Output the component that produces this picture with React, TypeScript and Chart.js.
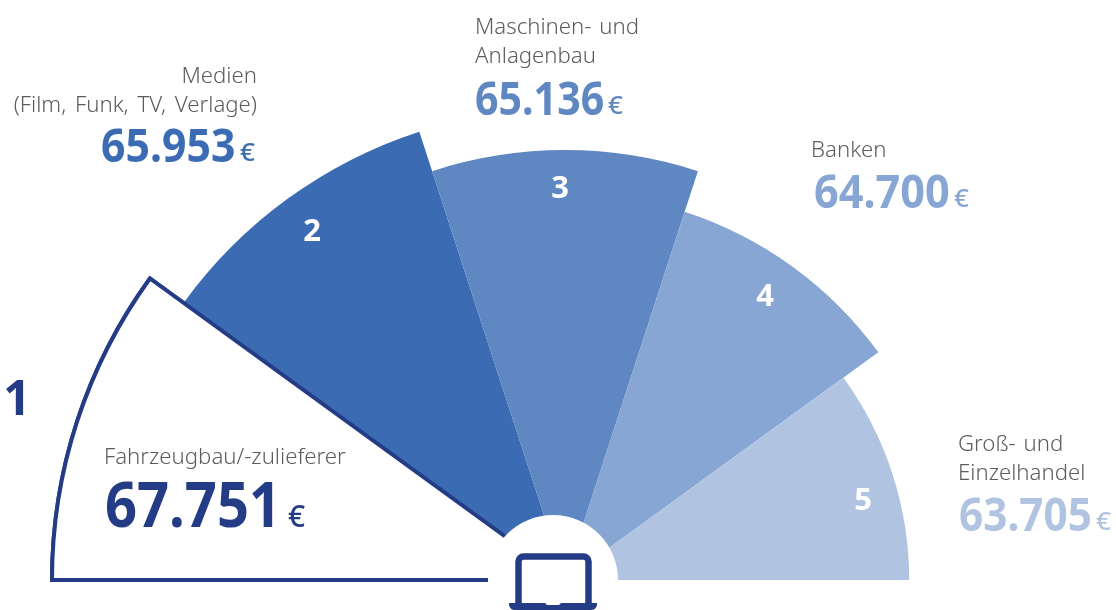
import React, { useEffect, useRef } from "react";
import { Chart, registerables } from "chart.js";

Chart.register(...registerables);

const categories = ["Fahrzeugbau/-zulieferer", "Medien (Film, Funk, TV, Verlage)", "Maschinen- und Anlagenbau", "Banken", "Groß- und Einzelhandel"];
const ranks = ["1", "2", "3", "4", "5"];
const salaries = [67751, 65953, 65136, 64700, 63705];
// Length of each wedge as drawn, relative to the longest one
const wedgeLengths = [100, 91.9, 83.8, 75.5, 67.1];
const wedgeAngles = [36, 36, 36, 36, 36];
const labelLines = [["Fahrzeugbau/-zulieferer"], ["Medien", "(Film, Funk, TV, Verlage)"], ["Maschinen- und", "Anlagenbau"], ["Banken"], ["Groß- und", "Einzelhandel"]];

const DARK = "#243c85";
const colors = ["#ffffff", "#3a6bb3", "#5f87c2", "#88a6d3", "#b0c3e0"];
const valueColors = [DARK, "#3a6bb3", "#5f87c2", "#88a6d3", "#b0c3e0"];
const GREY = "#5c5c5c";
const FONT = '"Noto Sans"';

const CX = 565;
const CY = 580;
const R = 513;
const HOLE_X = 553;
const HOLE = 65;

const textLayout = [
  { x: 104, align: "left", base: [464], word: 2, valueX: 105, valueY: 527, size: 62, sx: 0.904, euroX: 288, euroY: 527, euroSize: 30 },
  { x: 257, align: "right", base: [83, 112], word: 3, valueX: 101, valueY: 162, size: 47, sx: 0.91, euroX: 240, euroY: 161, euroSize: 26 },
  { x: 475, align: "left", base: [34, 63], word: 2, valueX: 475, valueY: 115, size: 47, sx: 0.875, euroX: 608, euroY: 114, euroSize: 26 },
  { x: 811, align: "left", base: [157], word: 2, valueX: 814, valueY: 208, size: 47, sx: 0.92, euroX: 954, euroY: 207, euroSize: 26 },
  { x: 958, align: "left", base: [451, 480], word: 2, valueX: 959, valueY: 531, size: 47, sx: 0.9, euroX: 1096, euroY: 530, euroSize: 26 },
];
const rankLayout = [
  { x: 17, y: 401, size: 48, color: DARK },
  { x: 312, y: 232, size: 31, color: "#ffffff" },
  { x: 560, y: 189, size: 31, color: "#ffffff" },
  { x: 765, y: 297, size: 31, color: "#ffffff" },
  { x: 863, y: 501, size: 31, color: "#ffffff" },
];

const fmt = (n: number) => {
  const s = String(n);
  return s.slice(0, s.length - 3) + "." + s.slice(-3);
};

const overlay = {
  id: "overlay",
  afterDatasetsDraw(chart: any) {
    const ctx: any = chart.ctx;
    // first wedge's outline lies on top of its neighbour
    chart.getDatasetMeta(0).data[0].draw(ctx);

    ctx.save();
    // hole
    ctx.fillStyle = "#ffffff";
    ctx.beginPath();
    ctx.arc(HOLE_X, CY, HOLE, 0, Math.PI * 2);
    ctx.fill();

    // laptop icon
    ctx.strokeStyle = DARK;
    ctx.fillStyle = DARK;
    ctx.lineWidth = 6.5;
    ctx.beginPath();
    ctx.moveTo(518.5, 606);
    ctx.lineTo(518.5, 562);
    ctx.arcTo(518.5, 556.5, 524, 556.5, 5);
    ctx.lineTo(583, 556.5);
    ctx.arcTo(588.5, 556.5, 588.5, 562, 5);
    ctx.lineTo(588.5, 606);
    ctx.stroke();
    ctx.beginPath();
    ctx.moveTo(509, 603);
    ctx.lineTo(545, 603);
    ctx.lineTo(547, 605);
    ctx.lineTo(559, 605);
    ctx.lineTo(561, 603);
    ctx.lineTo(597, 603);
    ctx.lineTo(597, 605);
    ctx.quadraticCurveTo(596, 610, 591, 610);
    ctx.lineTo(515, 610);
    ctx.quadraticCurveTo(510, 610, 509, 605);
    ctx.closePath();
    ctx.fill();

    // texts
    ctx.textBaseline = "alphabetic";
    labelLines.forEach((lines, i) => {
      const t = textLayout[i];
      ctx.font = `300 22.2px ${FONT}`;
      ctx.fillStyle = GREY;
      ctx.textAlign = t.align;
      ctx.wordSpacing = `${t.word}px`;
      lines.forEach((line, j) => ctx.fillText(line, t.x, t.base[j]));
      ctx.wordSpacing = "0px";
      ctx.textAlign = "left";
      ctx.fillStyle = valueColors[i];
      ctx.font = `700 ${t.size}px ${FONT}`;
      ctx.save();
      ctx.translate(t.valueX, t.valueY);
      ctx.scale(t.sx, 1);
      ctx.fillText(fmt(salaries[i]), 0, 0);
      ctx.restore();
      ctx.font = `500 ${t.euroSize}px ${FONT}`;
      ctx.fillText("€", t.euroX, t.euroY);
    });
    ranks.forEach((rank, i) => {
      const r = rankLayout[i];
      ctx.font = `700 ${r.size}px ${FONT}`;
      ctx.fillStyle = r.color;
      ctx.textAlign = "center";
      ctx.textBaseline = "middle";
      ctx.fillText(rank, r.x, r.y);
    });
    ctx.restore();
  },
};

export default function App() {
  const ref = useRef<HTMLCanvasElement>(null);
  useEffect(() => {
    const chart = new Chart(ref.current as HTMLCanvasElement, {
      type: "polarArea",
      data: {
        labels: categories,
        datasets: [
          {
            data: wedgeLengths,
            angle: wedgeAngles,
            backgroundColor: colors,
            borderColor: [DARK, colors[1], colors[2], colors[3], colors[4]],
            borderWidth: [4, 0, 0, 0, 0],
            borderJoinStyle: "miter",
          } as any,
        ],
      },
      options: {
        responsive: false,
        animation: false,
        layout: { padding: 0 },
        plugins: { legend: { display: false }, tooltip: { enabled: false } },
        scales: {
          r: {
            display: false,
            min: 0,
            max: 100,
            startAngle: 270,
            afterFit(scale: any) {
              scale.xCenter = CX;
              scale.yCenter = CY;
              scale.drawingArea = R;
            },
          } as any,
        },
      },
      plugins: [overlay],
    });
    return () => chart.destroy();
  }, []);
  return (
    <div style={{ position: "absolute", left: 0, top: 0, width: 1116, height: 610, overflow: "hidden", background: "#fff" }}>
      <canvas ref={ref} width={1116} height={610} style={{ display: "block" }} />
    </div>
  );
}
